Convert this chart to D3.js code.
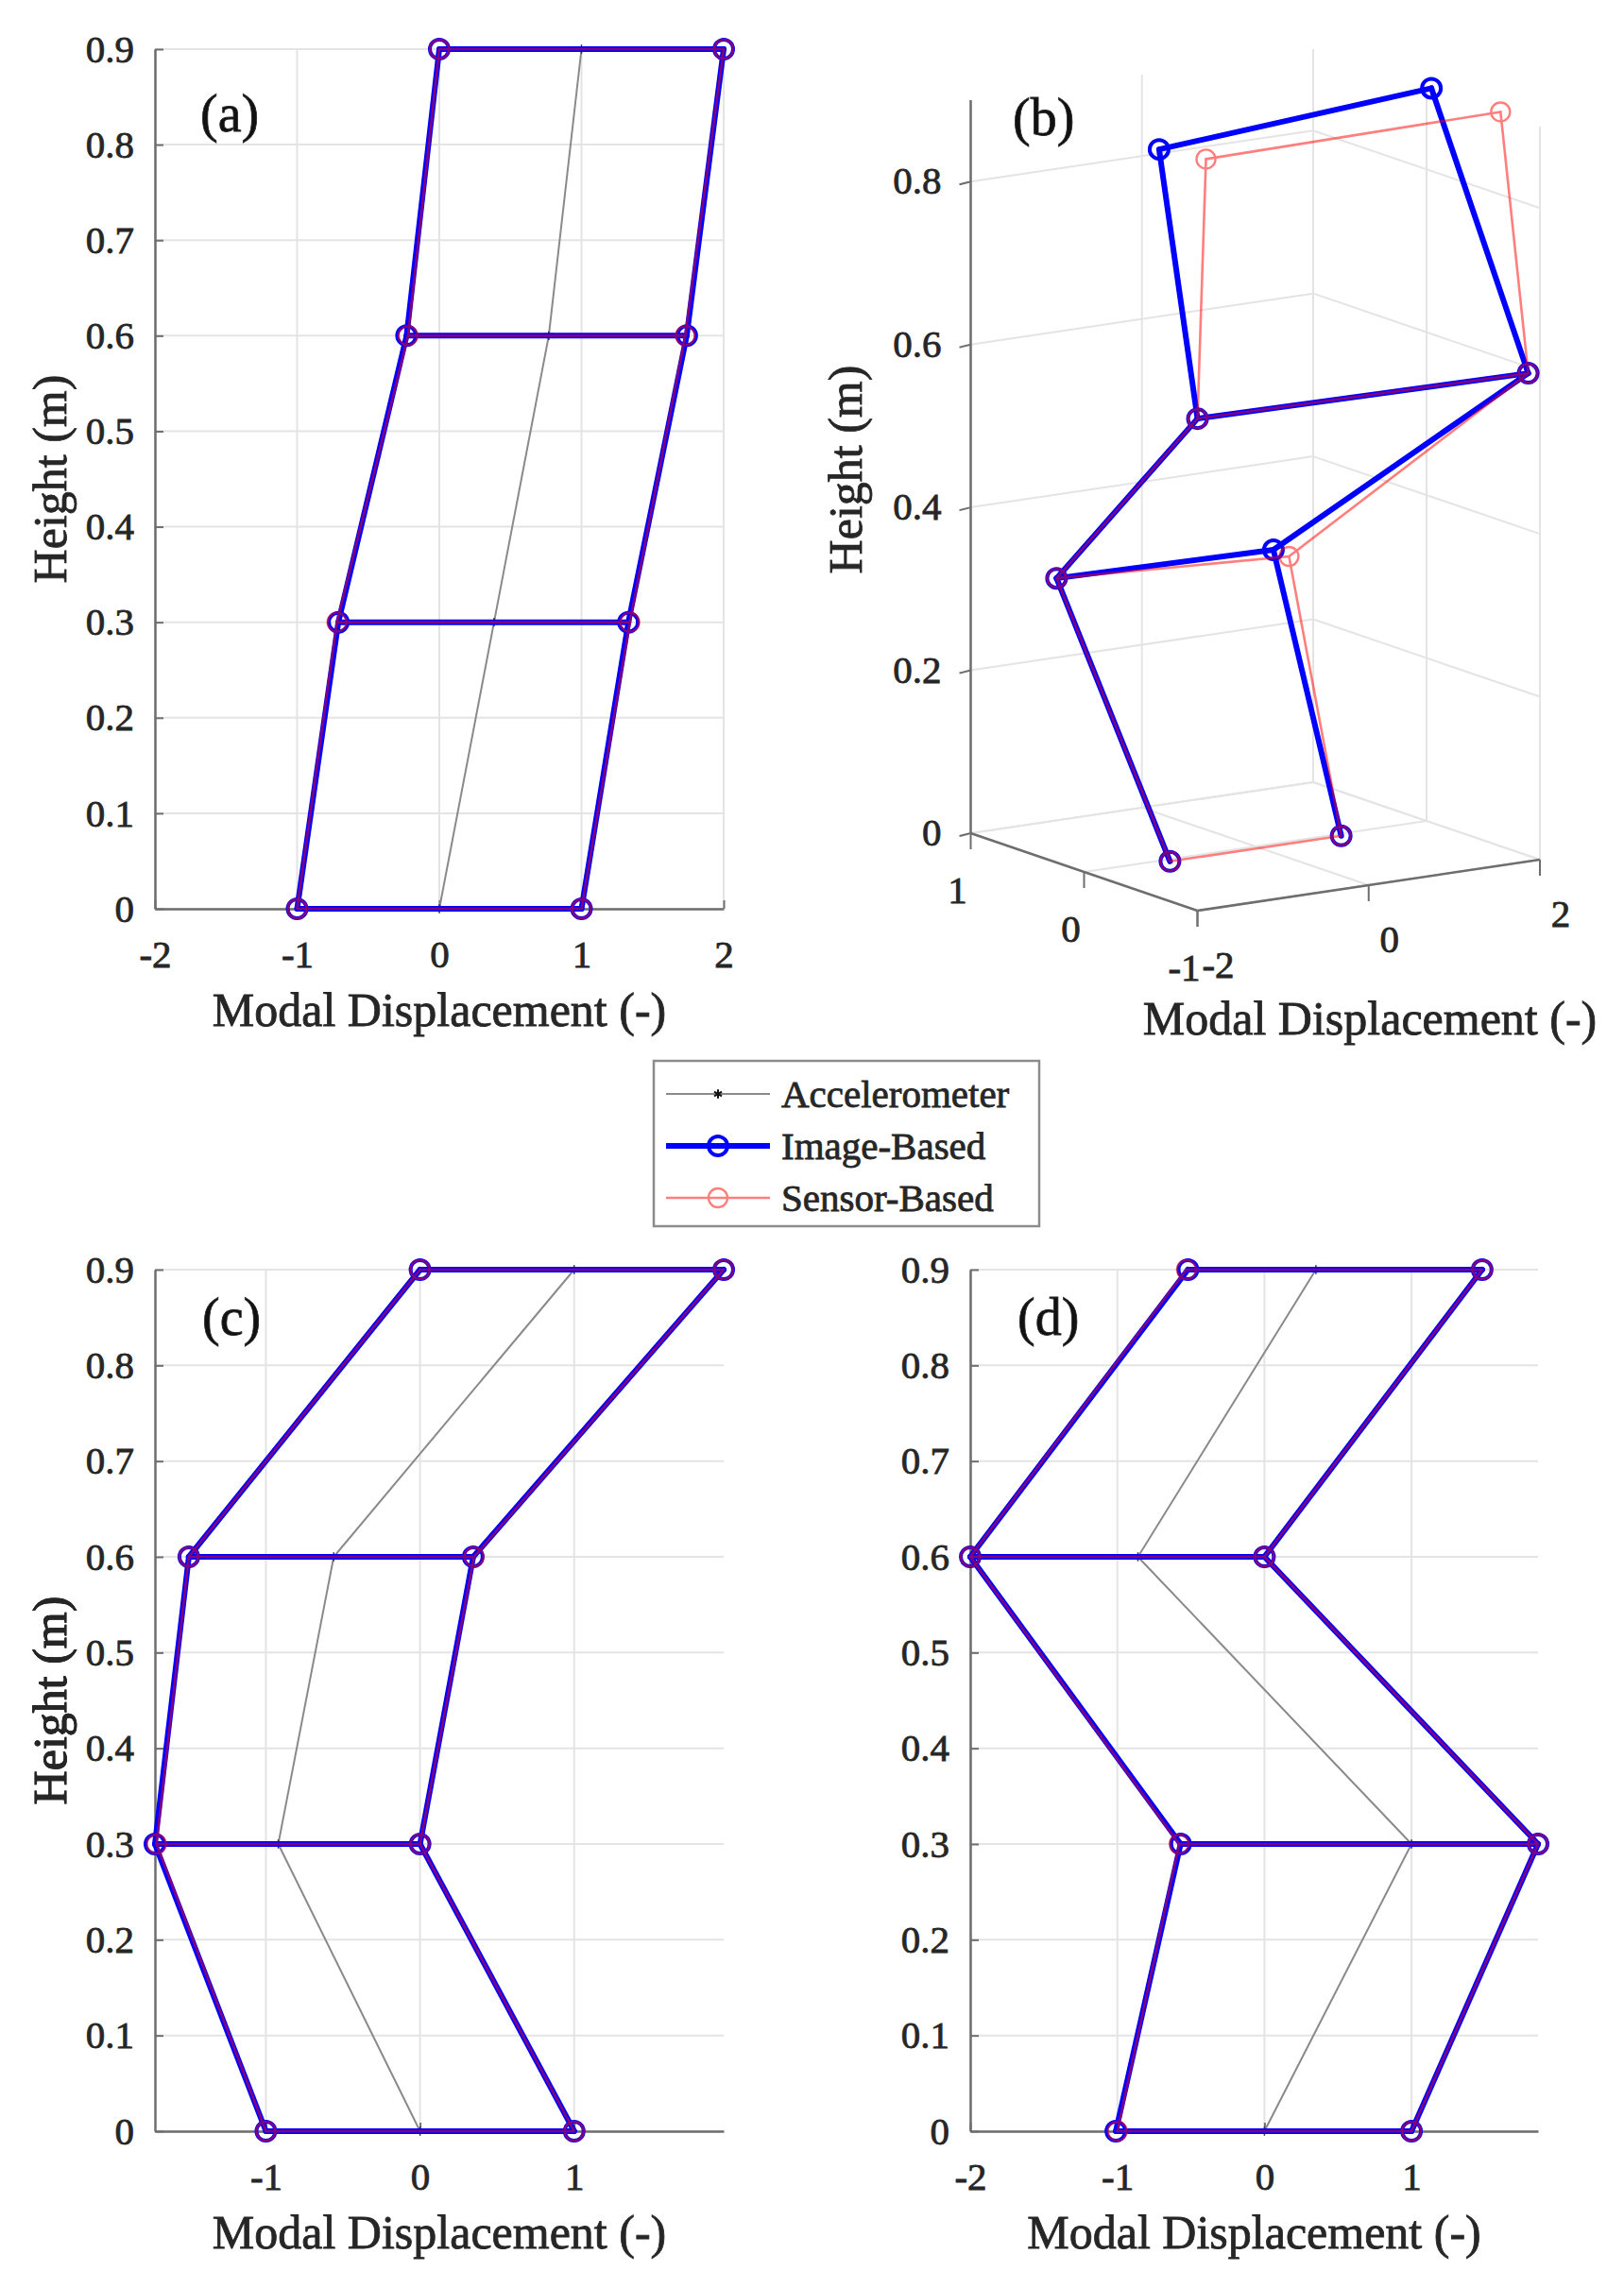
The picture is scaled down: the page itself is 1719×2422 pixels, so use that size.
<!DOCTYPE html>
<html>
<head>
<meta charset="utf-8">
<script src="https://cdn.jsdelivr.net/npm/d3@7"></script>
<style>
  body { margin: 0; background: #fff; }
  svg text { stroke: #262626; stroke-width: 0.8px; }
</style>
</head>
<body>
<svg id="fig"></svg>
<script>
let width = 1719;
let height = 2422;
let fontFamily = '"Liberation Serif", "Times New Roman", serif';
let textColor = "#262626";
let axisColor = "#6e6e6e";
let gridColor = "#e4e4e4";
let accelColor = "#8a8a8a";
let imageColor = "#0000ff";
let sensorColor = "#ff0000";

// storey heights (m), same for every panel
const floorHeights = [0, 0.3, 0.6, 0.9];
const heightTicks = [0, 0.1, 0.2, 0.3, 0.4, 0.5, 0.6, 0.7, 0.8, 0.9];

// (a) mode 1
const aTicks = [-2, -1, 0, 1, 2];
const aAccel = [0, 0.385, 0.77, 1.0];
const aImageLeft = [-1.0, -0.71, -0.23, 0.0];
const aImageRight = [1.0, 1.33, 1.74, 2.0];
const aSensorLeft = [-1.0, -0.72, -0.22, 0.0];
const aSensorRight = [1.0, 1.34, 1.73, 2.0];

// (c) mode 2
const cTicks = [-1, 0, 1];
const cAccel = [0, -0.92, -0.56, 1.0];
const cImageLeft = [-1.0, -1.72, -1.5, 0.0];
const cImageRight = [1.0, 0.0, 0.345, 1.97];
const cSensorLeft = [-1.0, -1.71, -1.5, 0.0];
const cSensorRight = [1.0, 0.0, 0.35, 1.97];

// (d) mode 3
const dTicks = [-2, -1, 0, 1];
const dAccel = [0, 1.0, -0.86, 0.35];
const dImageLeft = [-1.01, -0.57, -2.0, -0.52];
const dImageRight = [1.0, 1.86, 0.0, 1.48];
const dSensorLeft = [-1.0, -0.58, -2.0, -0.53];
const dSensorRight = [1.0, 1.86, 0.0, 1.48];

// (b) 3-D mode, X = modal displacement, Y = out of plane
const bTicksX = [-2, 0, 2];
const bTicksY = [-1, 0, 1];
const bTicksZ = [0, 0.2, 0.4, 0.6, 0.8];
const bImageLeftX = [-1.05, -1.05, -1.92, -1.64];
const bImageLeftY = [-0.04, 0.96, -0.94, -0.39];
const bImageRightX = [0.95, 1.39, 1.85, 2.03];
const bImageRightY = [-0.04, 0.89, -1.01, -0.02];
const bSensorLeftX = [-1.05, -1.05, -1.92, -1.49];
const bSensorLeftY = [-0.04, 0.96, -0.94, -0.69];
const bSensorRightX = [0.95, 1.36, 1.85, 2.03];
const bSensorRightY = [-0.04, 0.73, -1.01, -0.63];

const legendNames = ["Accelerometer", "Image-Based", "Sensor-Based"];

// members of the frame: left column, right column, beams
const frameEdges = [["L0", "L1"], ["L1", "L2"], ["L2", "L3"],
                    ["R0", "R1"], ["R1", "R2"], ["R2", "R3"],
                    ["L0", "R0"], ["L1", "R1"], ["L2", "R2"], ["L3", "R3"]];
// image-based trace in (b) has no base beam
const frameEdgesNoBase = frameEdges.filter(e => e.join() != "L0,R0");

let imageStyle = { color: imageColor, width: 6, opacity: 1, r: 10, markerWidth: 4 };
let sensorStyle = { color: sensorColor, width: 2.6, opacity: 0.5, r: 10, markerWidth: 2.4 };

let svg = d3.select("#fig")
    .attr("width", width)
    .attr("height", height)
    .style("font-family", fontFamily);

svg.append("rect").attr("width", width).attr("height", height).attr("fill", "#fff");

function heightFormat(d) {
    return d === 0 ? "0" : d3.format(".1f")(d);
}

function frameNodes(left, right) {
    let nodes = {};
    floorHeights.forEach((h, i) => {
        nodes["L" + i] = [left[i], h];
        nodes["R" + i] = [right[i], h];
    });
    return nodes;
}

function frameNodes3d(lx, ly, rx, ry) {
    let nodes = {};
    floorHeights.forEach((h, i) => {
        nodes["L" + i] = [lx[i], ly[i], h];
        nodes["R" + i] = [rx[i], ry[i], h];
    });
    return nodes;
}

function drawFrame(g, nodes, edges, toScreen, st) {
    let layer = g.append("g").attr("opacity", st.opacity);
    layer.selectAll("line")
        .data(edges)
        .join("line")
        .attr("x1", e => toScreen(nodes[e[0]])[0])
        .attr("y1", e => toScreen(nodes[e[0]])[1])
        .attr("x2", e => toScreen(nodes[e[1]])[0])
        .attr("y2", e => toScreen(nodes[e[1]])[1])
        .attr("stroke", st.color)
        .attr("stroke-width", st.width)
        .attr("stroke-linecap", "round");
    let used = Array.from(new Set(edges.flat()));
    layer.selectAll("circle")
        .data(used)
        .join("circle")
        .attr("cx", k => toScreen(nodes[k])[0])
        .attr("cy", k => toScreen(nodes[k])[1])
        .attr("r", st.r)
        .attr("fill", "none")
        .attr("stroke", st.color)
        .attr("stroke-width", st.markerWidth);
}

function styleAxis(g) {
    g.attr("font-size", 41).attr("font-family", fontFamily);
    g.select(".domain").attr("stroke", axisColor).attr("stroke-width", 2.5);
    g.selectAll(".tick line").attr("stroke", axisColor).attr("stroke-width", 2);
    g.selectAll("text").attr("fill", textColor);
}

let asterisk = d3.symbol(d3.symbolAsterisk, 60);

function drawPanel2D(p) {
    let g = svg.append("g");
    let x = d3.scaleLinear().domain(p.xDomain).range([p.left, p.right]);
    let y = d3.scaleLinear().domain([0, 0.9]).range([p.bottom, p.top]);

    // grid
    g.append("g").selectAll("line")
        .data(p.xTicks)
        .join("line")
        .attr("x1", d => x(d)).attr("x2", d => x(d))
        .attr("y1", p.top).attr("y2", p.bottom)
        .attr("stroke", gridColor).attr("stroke-width", 2);
    g.append("g").selectAll("line")
        .data(heightTicks)
        .join("line")
        .attr("x1", p.left).attr("x2", p.right)
        .attr("y1", d => y(d)).attr("y2", d => y(d))
        .attr("stroke", gridColor).attr("stroke-width", 2);

    let yAxis = g.append("g")
        .attr("transform", `translate(${p.left},0)`)
        .call(d3.axisLeft(y).tickValues(heightTicks).tickFormat(heightFormat)
            .tickSize(-9).tickSizeOuter(0).tickPadding(22));
    styleAxis(yAxis);
    let xAxis = g.append("g")
        .attr("transform", `translate(0,${p.bottom})`)
        .call(d3.axisBottom(x).tickValues(p.xTicks).tickFormat(d => String(d))
            .tickSize(-9).tickSizeOuter(0).tickPadding(33));
    styleAxis(xAxis);

    // labels
    g.append("text")
        .attr("x", (p.left + p.right) / 2).attr("y", p.bottom + 124)
        .attr("text-anchor", "middle").attr("font-size", 50).attr("fill", textColor)
        .text("Modal Displacement (-)");
    g.append("text")
        .attr("transform", `translate(52,${(p.top + p.bottom) / 2}) rotate(-90)`)
        .attr("x", 0).attr("dy", "0.35em")
        .attr("text-anchor", "middle").attr("font-size", 50).attr("fill", textColor)
        .text("Height (m)");
    g.append("text")
        .attr("x", p.tagX).attr("y", p.tagY)
        .attr("font-size", 56).attr("fill", "#111")
        .text(p.tag);

    // accelerometer
    let toScreen = d => [x(d[0]), y(d[1])];
    let accelPts = p.accel.map((v, i) => [v, floorHeights[i]]);
    g.append("path")
        .attr("d", d3.line().x(d => x(d[0])).y(d => y(d[1]))(accelPts))
        .attr("fill", "none").attr("stroke", accelColor).attr("stroke-width", 2);
    g.append("g").selectAll("path")
        .data(accelPts)
        .join("path")
        .attr("d", asterisk)
        .attr("transform", d => `translate(${x(d[0])},${y(d[1])})`)
        .attr("stroke", "#333").attr("stroke-width", 1.5).attr("fill", "none");

    drawFrame(g, frameNodes(p.imageLeft, p.imageRight), frameEdges, toScreen, imageStyle);
    drawFrame(g, frameNodes(p.sensorLeft, p.sensorRight), frameEdges, toScreen, sensorStyle);
}

function allValues(...arrs) {
    return d3.extent(arrs.flat());
}

drawPanel2D({
    left: 164, right: 766, top: 52, bottom: 962,
    xDomain: [-2, 2], xTicks: aTicks, tag: "(a)", tagX: 212, tagY: 139,
    accel: aAccel, imageLeft: aImageLeft, imageRight: aImageRight,
    sensorLeft: aSensorLeft, sensorRight: aSensorRight
});

drawPanel2D({
    left: 164, right: 766, top: 1344, bottom: 2256,
    xDomain: allValues(cAccel, cImageLeft, cImageRight, cSensorLeft, cSensorRight),
    xTicks: cTicks, tag: "(c)", tagX: 214, tagY: 1413,
    accel: cAccel, imageLeft: cImageLeft, imageRight: cImageRight,
    sensorLeft: cSensorLeft, sensorRight: cSensorRight
});

drawPanel2D({
    left: 1027, right: 1628, top: 1344, bottom: 2256,
    xDomain: allValues(dAccel, dImageLeft, dImageRight, dSensorLeft, dSensorRight),
    xTicks: dTicks, tag: "(d)", tagX: 1077, tagY: 1413,
    accel: dAccel, imageLeft: dImageLeft, imageRight: dImageRight,
    sensorLeft: dSensorLeft, sensorRight: dSensorRight
});

// ---- (b): 3-D view, orthographic ----
function drawPanel3D() {
    let g = svg.append("g");
    // screen position of the front floor corner and the box edges
    let front = [1267.5, 964];
    let edgeX = [362.5, -54];
    let edgeY = [-240, -82];
    let sX = d3.scaleLinear().domain([-2, 2]).range([0, 1]);
    let sY = d3.scaleLinear().domain([-1, 1]).range([0, 1]);
    let sZ = d3.scaleLinear().domain([0, 0.9]).range([0, 776]);
    let proj = d => [
        front[0] + sX(d[0]) * edgeX[0] + sY(d[1]) * edgeY[0],
        front[1] + sX(d[0]) * edgeX[1] + sY(d[1]) * edgeY[1] - sZ(d[2])
    ];
    let seg = (layer, list, color, w) => layer.selectAll("line")
        .data(list)
        .join("line")
        .attr("x1", s => proj(s[0])[0]).attr("y1", s => proj(s[0])[1])
        .attr("x2", s => proj(s[1])[0]).attr("y2", s => proj(s[1])[1])
        .attr("stroke", color).attr("stroke-width", w);

    // grid on floor and the two back walls
    let grid = [];
    bTicksX.forEach(v => grid.push([[v, -1, 0], [v, 1, 0]], [[v, 1, 0], [v, 1, 0.9]]));
    bTicksY.forEach(v => grid.push([[-2, v, 0], [2, v, 0]], [[2, v, 0], [2, v, 0.9]]));
    bTicksZ.forEach(v => grid.push([[-2, 1, v], [2, 1, v]], [[2, -1, v], [2, 1, v]]));
    seg(g.append("g"), grid, gridColor, 2);

    // axis lines
    let axes = [[[-2, -1, 0], [2, -1, 0]], [[-2, -1, 0], [-2, 1, 0]], [[-2, 1, 0], [-2, 1, 0.9]]];
    seg(g.append("g"), axes, axisColor, 2.5);

    // tick marks
    let tickG = g.append("g").attr("stroke", axisColor).attr("stroke-width", 2);
    bTicksZ.forEach(v => {
        let p = proj([-2, 1, v]);
        tickG.append("line").attr("x1", p[0]).attr("y1", p[1]).attr("x2", p[0] - 12).attr("y2", p[1] + 3);
    });
    bTicksX.forEach(v => {
        let p = proj([v, -1, 0]);
        tickG.append("line").attr("x1", p[0]).attr("y1", p[1]).attr("x2", p[0]).attr("y2", p[1] + 17);
    });
    bTicksY.forEach(v => {
        let p = proj([-2, v, 0]);
        tickG.append("line").attr("x1", p[0]).attr("y1", p[1]).attr("x2", p[0]).attr("y2", p[1] + 17);
    });

    // tick labels
    let lab = g.append("g").attr("font-size", 41).attr("fill", textColor);
    bTicksZ.forEach(v => {
        let p = proj([-2, 1, v]);
        lab.append("text").attr("x", p[0] - 31).attr("y", p[1]).attr("dy", "0.32em")
            .attr("text-anchor", "end").text(heightFormat(v));
    });
    bTicksY.forEach(v => {
        let p = proj([-2, v, 0]);
        lab.append("text").attr("x", p[0] - 14).attr("y", p[1] + 74)
            .attr("text-anchor", "middle").text(String(v));
    });
    bTicksX.forEach(v => {
        let p = proj([v, -1, 0]);
        lab.append("text").attr("x", p[0] + 22).attr("y", p[1] + 71)
            .attr("text-anchor", "middle").text(String(v));
    });

    g.append("text")
        .attr("x", 1450).attr("y", 1095)
        .attr("text-anchor", "middle").attr("font-size", 50).attr("fill", textColor)
        .text("Modal Displacement (-)");
    g.append("text")
        .attr("transform", "translate(894,497) rotate(-90)")
        .attr("dy", "0.35em")
        .attr("text-anchor", "middle").attr("font-size", 50).attr("fill", textColor)
        .text("Height (m)");
    g.append("text")
        .attr("x", 1072).attr("y", 143)
        .attr("font-size", 56).attr("fill", "#111")
        .text("(b)");

    drawFrame(g, frameNodes3d(bImageLeftX, bImageLeftY, bImageRightX, bImageRightY),
        frameEdgesNoBase, proj, imageStyle);
    drawFrame(g, frameNodes3d(bSensorLeftX, bSensorLeftY, bSensorRightX, bSensorRightY),
        frameEdges, proj, sensorStyle);
}
drawPanel3D();

// ---- legend ----
let legend = svg.append("g");
legend.append("rect")
    .attr("x", 692).attr("y", 1123).attr("width", 408).attr("height", 175)
    .attr("fill", "#fff").attr("stroke", "#8c8c8c").attr("stroke-width", 2.5);

let rowY = d3.scalePoint().domain(legendNames).range([1158, 1268]);
let legendStyles = [
    { color: accelColor, width: 2, opacity: 1 },
    imageStyle,
    sensorStyle
];
legendNames.forEach((name, i) => {
    let yy = rowY(name);
    let st = legendStyles[i];
    let row = legend.append("g").attr("opacity", st.opacity);
    row.append("line")
        .attr("x1", 705).attr("x2", 815).attr("y1", yy).attr("y2", yy)
        .attr("stroke", st.color).attr("stroke-width", st.width);
    if (i == 0) {
        row.append("path").attr("d", asterisk)
            .attr("transform", `translate(760,${yy})`)
            .attr("stroke", "#111").attr("stroke-width", 2).attr("fill", "none");
    } else {
        row.append("circle").attr("cx", 760).attr("cy", yy).attr("r", st.r)
            .attr("fill", "none").attr("stroke", st.color).attr("stroke-width", st.markerWidth);
    }
    legend.append("text")
        .attr("x", 827).attr("y", yy).attr("dy", "0.34em")
        .attr("font-size", 41).attr("fill", textColor)
        .text(name);
});
</script>
</body>
</html>
